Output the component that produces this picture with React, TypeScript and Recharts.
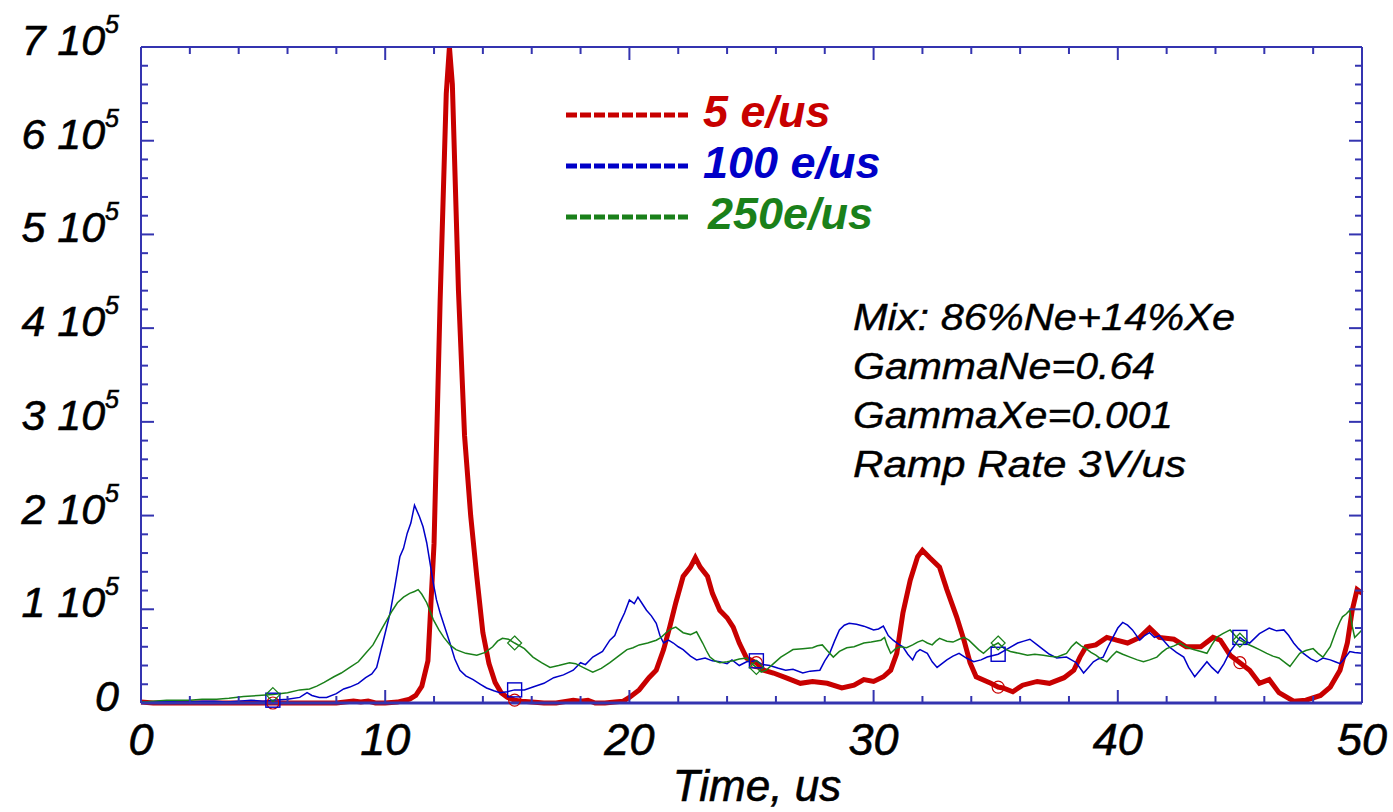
import React from 'react';
import { LineChart, Line, XAxis, YAxis, ReferenceLine } from 'recharts';

// ---- data (values in units of 1000) ----
const red5: [number, number][] = [
  [0,1],[0.5,0],[1,0],[2,0],[3,0],[4,0],[5,0],[5.4,0],[6,0],[7,0],[8,0],[8.7,2],[9,1],[9.3,2],[9.6,0],[10,0],[10.5,1],
  [11,4],[11.25,8],[11.5,18],[11.75,45],[12,170],[12.25,430],[12.5,650],[12.63,700],[12.75,660],[13,440],[13.25,285],
  [13.5,200],[13.75,135],[14,75],[14.25,42],[14.5,22],[14.75,11],[15,6],[15.3,3],[15.6,2],[16,1],[16.5,0],[17,0],
  [17.7,3],[18,2],[18.3,3],[18.6,0],[19,0],[19.4,1],[19.75,2],[20,6],[20.4,14],[20.8,27],[21.1,35],[21.4,57],[21.65,81],
  [21.9,107],[22.2,135],[22.5,145],[22.7,155],[22.9,145],[23.2,135],[23.4,117],[23.7,99],[24,91],[24.25,81],[24.5,64],
  [24.8,48],[25.2,43],[25.5,35],[25.9,32],[26.4,27],[27,21],[27.5,23],[28.1,21],[28.7,16],[29.2,19],[29.6,25],[30,23],
  [30.4,28],[30.7,35],[30.95,53],[31.2,96],[31.5,131],[31.8,156],[32,163],[32.3,155],[32.7,145],[33,121],[33.4,92],
  [33.7,67],[33.95,43],[34.2,28],[34.8,21],[35.1,17],[35.3,16],[35.7,12],[36.1,19],[36.7,23],[37.2,21],[37.8,27],
  [38.2,35],[38.45,49],[38.7,60],[39.1,62],[39.55,70],[39.95,67],[40.4,64],[40.9,70],[41.3,80],[41.7,70],[42.3,68],
  [42.8,60],[43.4,60],[43.9,70],[44.2,67],[44.6,51],[45,43],[45.4,35],[45.8,21],[46.2,25],[46.6,11],[47.2,2],[47.7,3],
  [48.3,8],[48.7,17],[49.1,35],[49.4,64],[49.6,99],[49.8,121],[50,117],
];

const blue100: [number, number][] = [
  [0,1],[0.5,1],[1,2],[1.5,1],[2,1],[2.5,2],[3,2],[3.5,1],[4,2],[4.5,3],[5,2],[5.4,3],[6,4],[6.5,6],[6.8,11],[7,8],
  [7.3,6],[7.6,6],[8,10],[8.3,15],[8.55,17],[8.9,21],[9.2,27],[9.45,31],[9.65,38],[9.9,64],[10.2,96],[10.4,125],
  [10.6,156],[10.75,165],[10.9,181],[11.05,192],[11.2,211],[11.4,199],[11.55,188],[11.7,171],[11.97,128],[12.1,110],
  [12.25,96],[12.45,80],[12.65,64],[12.85,47],[13.06,35],[13.3,29],[13.6,25],[13.9,20],[14.15,16],[14.45,13],[14.7,11],
  [15,12],[15.3,14],[15.7,14],[16.05,17],[16.5,21],[16.9,27],[17.3,30],[17.7,35],[18,43],[18.2,41],[18.5,49],[18.9,55],
  [19.2,67],[19.4,72],[19.6,85],[19.8,96],[20,110],[20.2,106],[20.35,113],[20.5,107],[20.7,99],[20.9,93],[21.1,85],
  [21.25,72],[21.4,64],[21.6,67],[21.8,64],[22,60],[22.2,57],[22.5,50],[22.75,46],[23.1,48],[23.4,45],[23.7,44],
  [24,42],[24.2,46],[24.5,40],[24.8,44],[25.2,45],[25.45,41],[25.75,40],[26.1,37],[26.4,35],[26.7,36],[27.1,32],
  [27.4,34],[27.8,35],[28,45],[28.2,53],[28.4,66],[28.6,78],[28.8,83],[29,85],[29.3,84],[29.6,82],[29.8,80],[30,78],
  [30.2,79],[30.4,82],[30.6,72],[30.8,67],[31,63],[31.2,60],[31.4,52],[31.6,46],[31.75,54],[31.9,57],[32.2,53],
  [32.4,44],[32.6,38],[32.8,42],[33,46],[33.25,50],[33.5,53],[33.8,48],[34.1,44],[34.4,46],[34.65,49],[35.1,52],
  [35.5,58],[35.9,64],[36.15,66],[36.4,68],[36.7,62],[36.95,57],[37.2,52],[37.5,48],[37.9,49],[38.1,46],[38.3,43],
  [38.6,32],[38.8,38],[39,44],[39.2,47],[39.4,49],[39.6,60],[39.8,70],[40,80],[40.2,86],[40.4,83],[40.6,78],[40.9,67],
  [41.1,72],[41.3,75],[41.5,70],[41.7,72],[41.9,66],[42.1,60],[42.4,54],[42.7,49],[42.9,38],[43.15,28],[43.4,36],
  [43.65,44],[43.85,38],[44.1,32],[44.35,42],[44.6,55],[44.8,62],[45,70],[45.2,66],[45.4,64],[45.6,69],[45.8,74],
  [46,77],[46.2,80],[46.5,77],[46.8,78],[47,72],[47.2,64],[47.4,58],[47.6,53],[47.9,47],[48.15,44],[48.4,48],
  [48.7,46],[48.9,44],[49.1,42],[49.3,48],[49.5,55],[49.7,54],[50,53],
];

const green250: [number, number][] = [
  [0,1],[0.5,2],[1.05,3],[1.5,3],[2,3],[2.5,4],[3.1,4],[3.6,5],[4.2,7],[4.8,8],[5.4,9],[6,11],[6.5,14],[6.9,15],
  [7.2,18],[7.5,22],[7.9,28],[8.2,32],[8.55,38],[8.9,44],[9.2,53],[9.5,62],[9.9,81],[10.1,90],[10.3,99],[10.5,107],
  [10.75,113],[11,117],[11.2,119],[11.35,121],[11.5,116],[11.7,107],[11.97,89],[12.2,78],[12.4,70],[12.65,62],[12.9,57],
  [13.3,53],[13.75,51],[14.1,54],[14.4,60],[14.6,66],[14.8,69],[15.05,68],[15.3,64],[15.7,58],[16.05,49],[16.4,43],
  [16.75,38],[17.1,40],[17.55,43],[17.8,42],[18.1,38],[18.5,33],[18.85,37],[19.2,43],[19.55,50],[19.9,57],[20.15,59],
  [20.4,62],[20.75,64],[21.1,67],[21.3,70],[21.5,75],[21.7,79],[21.9,81],[22.2,75],[22.5,73],[22.75,76],[23,64],
  [23.15,56],[23.3,49],[23.5,45],[23.7,43],[24,44],[24.25,45],[24.5,47],[24.8,48],[25,42],[25.2,38],[25.4,33],[25.6,35],
  [25.9,42],[26.2,49],[26.45,53],[26.7,57],[27.1,58],[27.5,59],[27.7,61],[27.9,62],[28.1,56],[28.35,49],[28.6,55],
  [28.9,59],[29.2,60],[29.6,64],[29.9,65],[30.3,67],[30.45,70],[30.55,62],[30.7,53],[30.9,58],[31.1,60],[31.35,59],
  [31.6,62],[31.8,65],[32,67],[32.2,64],[32.4,62],[32.55,66],[32.7,69],[33,66],[33.25,65],[33.5,68],[33.7,70],[33.9,67],
  [34.1,62],[34.3,57],[34.5,53],[34.8,60],[35.1,64],[35.35,58],[35.6,55],[35.95,53],[36.3,51],[36.6,52],[36.95,51],
  [37.2,50],[37.5,49],[37.7,51],[37.9,53],[38.1,60],[38.3,65],[38.5,61],[38.7,58],[38.9,54],[39.1,51],[39.3,47],
  [39.55,44],[39.75,50],[39.95,55],[40.2,52],[40.5,49],[40.8,46],[41.05,44],[41.3,46],[41.6,49],[41.8,54],[42,58],
  [42.3,61],[42.55,64],[42.8,60],[43.1,57],[43.4,55],[43.65,53],[43.85,62],[44.05,70],[44.3,74],[44.6,78],[44.8,72],
  [45,67],[45.3,63],[45.55,60],[45.8,57],[46.1,53],[46.35,50],[46.6,48],[46.85,43],[47.05,39],[47.25,46],[47.45,53],
  [47.7,56],[48,58],[48.2,53],[48.4,49],[48.7,60],[48.95,78],[49.1,87],[49.2,92],[49.35,95],[49.5,99],[49.6,82],
  [49.7,70],[49.85,74],[50,78],
];

const markerTimes = [5.4, 15.3, 25.2, 35.1, 45];
const xTicks = [0,2,4,6,8,10,12,14,16,18,20,22,24,26,28,30,32,34,36,38,40,42,44,46,48,50];
const yTicks = [0,20,40,60,80,100,120,140,160,180,200,220,240,260,280,300,320,340,360,380,400,420,440,460,480,500,520,540,560,580,600,620,640,660,680,700];
const legendNames = ['5 e/us', '100 e/us', '250e/us'];
const noteLines = ['Mix: 86%Ne+14%Xe', 'GammaNe=0.64', 'GammaXe=0.001', 'Ramp Rate 3V/us'];

const RED = '#c80000';
const BLUE = '#0000c8';
const GREEN = '#1a801a';
const AXIS = '#3434b0';
const FONT = "'Liberation Sans', Arial, Helvetica, sans-serif";

const toRows = (arr: [number, number][]) => arr.map(([t, v]) => ({ t, v }));

const BottomTick = (props: any) => {
  const { x, y, payload } = props;
  const v = payload.value;
  const major = v % 10 === 0;
  return (
    <g>
      <line x1={x} y1={y} x2={x} y2={y - (major ? 13 : 7)} stroke={AXIS} strokeWidth={2} />
      {major && (
        <text x={x} y={y + 52} textAnchor="middle" fontSize={45} fontStyle="italic" fontFamily={FONT} fill="#000"
          stroke="#000" strokeWidth={0.6}>
          {v}
        </text>
      )}
    </g>
  );
};

const TopTick = (props: any) => {
  const { x, y, payload } = props;
  const major = payload.value % 10 === 0;
  return <line x1={x} y1={y} x2={x} y2={y + (major ? 13 : 7)} stroke={AXIS} strokeWidth={2} />;
};

const LeftTick = (props: any) => {
  const { x, y, payload } = props;
  const v = payload.value;
  const major = v % 100 === 0;
  const n = v / 100;
  return (
    <g>
      <line x1={x} y1={y} x2={x + (major ? 13 : 7)} y2={y} stroke={AXIS} strokeWidth={2} />
      {major && (
        <text x={x - 22} y={y + 8} textAnchor="end" fontSize={43} fontStyle="italic" fontFamily={FONT} fill="#000"
          stroke="#000" strokeWidth={0.6}>
          {n === 0 ? '0' : `${n} 10`}
          {n !== 0 && <tspan fontSize={25} dy={-22}>5</tspan>}
        </text>
      )}
    </g>
  );
};

const RightTick = (props: any) => {
  const { x, y, payload } = props;
  const major = payload.value % 100 === 0;
  return <line x1={x} y1={y} x2={x - (major ? 13 : 7)} y2={y} stroke={AXIS} strokeWidth={2} />;
};

const makeDot = (kind: 'circle' | 'square' | 'diamond', color: string) => (props: any) => {
  const { cx, cy, payload, index } = props;
  if (!payload || !markerTimes.includes(payload.t)) return <g key={`d${index}`} />;
  if (kind === 'circle')
    return <circle key={`d${index}`} cx={cx} cy={cy} r={6} fill="none" stroke={color} strokeWidth={1.2} />;
  if (kind === 'square')
    return <rect key={`d${index}`} x={cx - 7} y={cy - 7} width={14} height={14} fill="none" stroke={color} strokeWidth={1.4} />;
  return (
    <path key={`d${index}`} d={`M${cx},${cy - 7}L${cx + 7},${cy}L${cx},${cy + 7}L${cx - 7},${cy}Z`} fill="none" stroke={color} strokeWidth={1.2} />
  );
};

export default function App() {
  const W = 1393;
  const H = 812;
  const legendColors = [RED, BLUE, GREEN];
  return (
    <div style={{ position: 'absolute', left: 0, top: 0, width: W, height: H, background: '#fff' }}>
      <LineChart width={W} height={H} margin={{ top: 46, right: 30, bottom: 0, left: 0 }}>
        <XAxis dataKey="t" type="number" domain={[0, 50]} ticks={xTicks} interval={0} height={109}
          tickSize={0} tickMargin={0} tick={<BottomTick />} axisLine={{ stroke: AXIS, strokeWidth: 2 }} />
        <XAxis xAxisId="top" orientation="top" dataKey="t" type="number" domain={[0, 50]} ticks={xTicks} interval={0} height={1}
          tickSize={0} tickMargin={0} tick={<TopTick />} axisLine={{ stroke: AXIS, strokeWidth: 2 }} />
        <YAxis type="number" domain={[0, 700]} ticks={yTicks} interval={0} width={141}
          tickSize={0} tickMargin={0} tick={<LeftTick />} axisLine={{ stroke: AXIS, strokeWidth: 2 }} />
        <YAxis yAxisId="right" orientation="right" type="number" domain={[0, 700]} ticks={yTicks} interval={0} width={1}
          tickSize={0} tickMargin={0} tick={<RightTick />} axisLine={{ stroke: AXIS, strokeWidth: 2 }} />
        <Line data={toRows(red5)} dataKey="v" type="linear" stroke={RED} strokeWidth={5}
          dot={makeDot('circle', RED)} activeDot={false} isAnimationActive={false} />
        <Line data={toRows(blue100)} dataKey="v" type="linear" stroke={BLUE} strokeWidth={1.5}
          dot={makeDot('square', BLUE)} activeDot={false} isAnimationActive={false} />
        <Line data={toRows(green250)} dataKey="v" type="linear" stroke={GREEN} strokeWidth={1.5}
          dot={makeDot('diamond', GREEN)} activeDot={false} isAnimationActive={false} />
        <Line xAxisId="top" yAxisId="right" data={toRows(green250)} dataKey="v" stroke="none" strokeOpacity={0}
          dot={false} activeDot={false} isAnimationActive={false} legendType="none" />
        <ReferenceLine y={0} stroke={AXIS} strokeWidth={3} />
      </LineChart>
      <svg width={W} height={H} style={{ position: 'absolute', left: 0, top: 0, pointerEvents: 'none' }}>
        {legendNames.map((name, i) => (
          <g key={name}>
            <line x1={566} x2={688} y1={115 + i * 51} y2={115 + i * 51} stroke={legendColors[i]} strokeWidth={5} strokeDasharray="11 3" />
            <text x={i === 2 ? 708 : 703} y={127 + i * 51} fontSize={45} fontWeight="bold" fontStyle="italic" fontFamily={FONT} fill={legendColors[i]}>
              {name}
            </text>
          </g>
        ))}
        {noteLines.map((s, i) => (
          <text key={s} x={853} y={330 + i * 49} fontSize={37} fontStyle="italic" fontFamily={FONT} fill="#000"
            stroke="#000" strokeWidth={0.4} textLength={[382, 302, 320, 333][i]} lengthAdjust="spacingAndGlyphs">
            {s}
          </text>
        ))}
        <text x={757} y={801} textAnchor="middle" fontSize={44} fontStyle="italic" fontFamily={FONT} fill="#000"
          stroke="#000" strokeWidth={0.6}>Time, us</text>
      </svg>
    </div>
  );
}
